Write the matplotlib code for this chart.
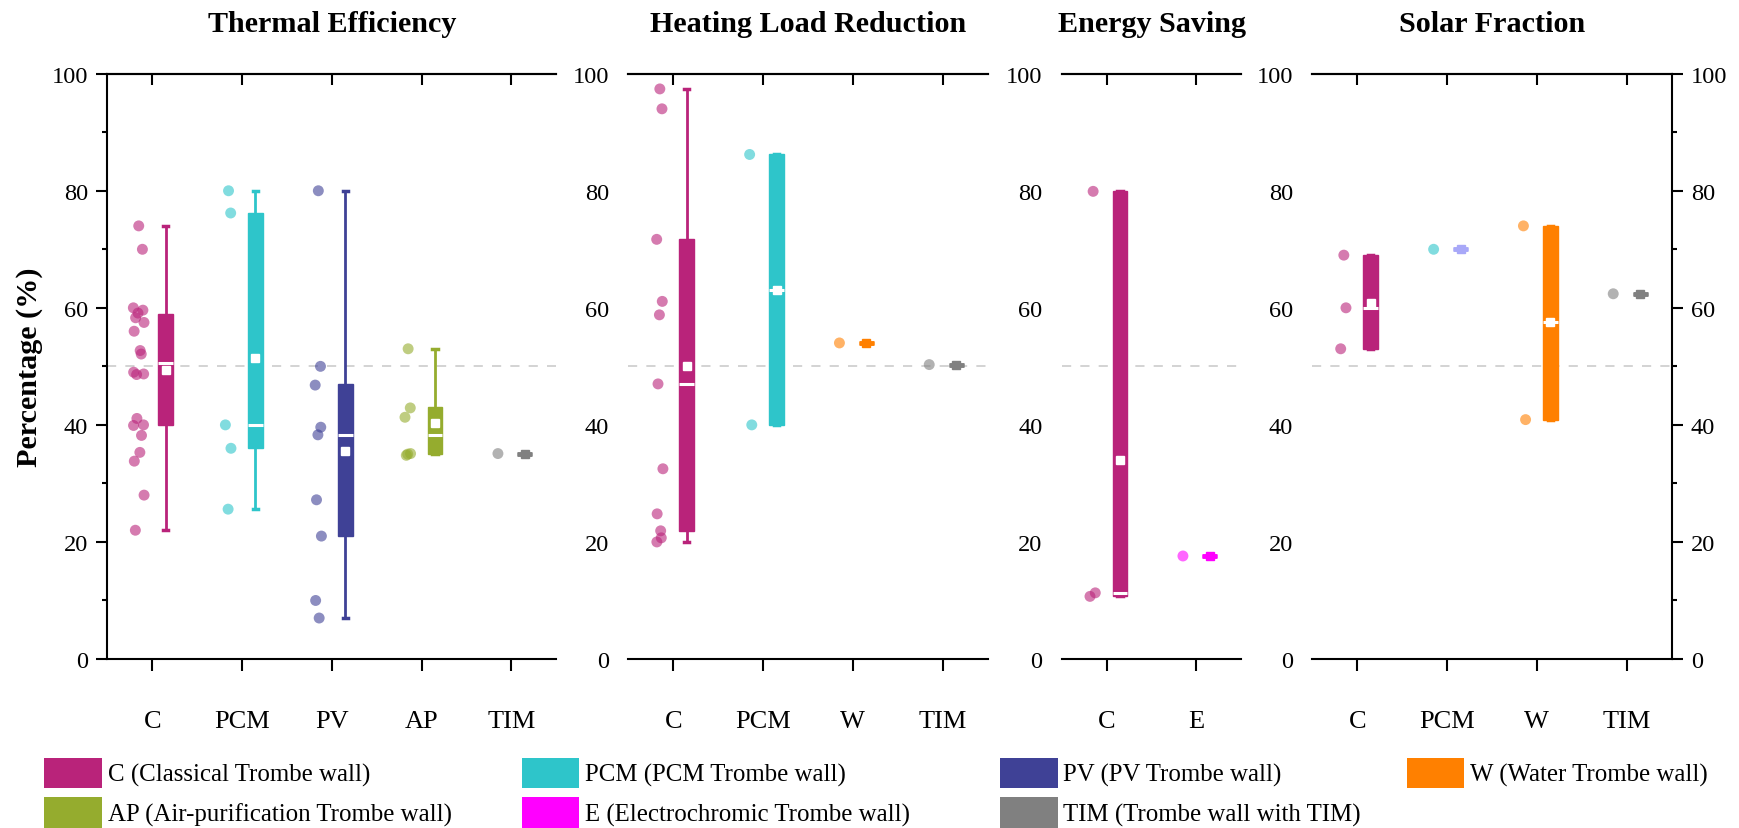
import numpy as np
import matplotlib
matplotlib.use("Agg")
import matplotlib.pyplot as plt
from matplotlib.patches import Patch
from matplotlib.ticker import MultipleLocator

plt.rcParams['font.family'] = ['Liberation Serif', 'DejaVu Serif']

# ---------------- data ----------------
# Thermal Efficiency
te_categories = ["C", "PCM", "PV", "AP", "TIM"]
te_C = [74.0, 70.0, 60.0, 59.6, 59.1, 58.3, 57.5, 56.0, 52.7, 52.1, 49.0,
        48.7, 48.6, 41.1, 40.0, 39.9, 38.2, 35.3, 33.8, 28.0, 22.0]
te_PCM = [80.0, 76.2, 40.0, 36.0, 25.6]
te_PV = [80.0, 50.0, 46.8, 39.6, 38.3, 27.2, 21.0, 10.0, 7.0]
te_AP = [53.0, 42.9, 41.3, 35.1, 35.0, 34.8]
te_TIM = [35.1]
te_lo = [22.0, 25.6, 7.0, 35.0, 35.1]
te_q1 = [40.0, 36.0, 21.0, 35.0, 35.1]
te_med = [50.5, 40.0, 38.3, 38.2, 35.1]
te_q3 = [59.0, 76.2, 47.0, 43.0, 35.1]
te_hi = [74.0, 80.0, 80.0, 53.0, 35.1]
te_mean = [49.3, 51.5, 35.5, 40.3, 35.1]

# Heating Load Reduction
hl_categories = ["C", "PCM", "W", "TIM"]
hl_C = [97.4, 94.0, 71.7, 61.1, 58.8, 47.0, 32.5, 24.8, 21.9, 20.7, 20.0]
hl_PCM = [86.2, 40.0]
hl_W = [54.0]
hl_TIM = [50.3]
hl_lo = [20.0, 40.0, 54.0, 50.3]
hl_q1 = [21.8, 40.0, 54.0, 50.3]
hl_med = [47.0, 63.1, 54.0, 50.3]
hl_q3 = [71.7, 86.2, 54.0, 50.3]
hl_hi = [97.4, 86.2, 54.0, 50.3]
hl_mean = [50.0, 63.1, 54.0, 50.3]

# Energy Saving
es_categories = ["C", "E"]
es_C = [79.9, 11.3, 10.7]
es_E = [17.6]
es_lo = [10.7, 17.6]
es_q1 = [10.7, 17.6]
es_med = [11.3, 17.6]
es_q3 = [80.0, 17.6]
es_hi = [80.0, 17.6]
es_mean = [34.0, 17.6]

# Solar Fraction
sf_categories = ["C", "PCM", "W", "TIM"]
sf_C = [69.0, 60.0, 53.0]
sf_PCM = [70.0]
sf_W = [74.0, 40.9]
sf_TIM = [62.4]
sf_lo = [53.0, 70.0, 40.9, 62.4]
sf_q1 = [53.0, 70.0, 40.9, 62.4]
sf_med = [60.0, 70.0, 57.5, 62.4]
sf_q3 = [69.0, 70.0, 74.0, 62.4]
sf_hi = [69.0, 70.0, 74.0, 62.4]
sf_mean = [60.8, 70.0, 57.5, 62.4]

legend_labels = {
    "C": "C (Classical Trombe wall)",
    "PCM": "PCM (PCM Trombe wall)",
    "PV": "PV (PV Trombe wall)",
    "W": "W (Water Trombe wall)",
    "AP": "AP (Air-purification Trombe wall)",
    "E": "E (Electrochromic Trombe wall)",
    "TIM": "TIM (Trombe wall with TIM)",
}

# ---------------- style ----------------
colors = {"C": "#B9237A", "PCM": "#2EC5CA", "PV": "#3F4196", "W": "#FF8000",
          "AP": "#95AC2E", "E": "#FF00FF", "TIM": "#808080"}
sf_box_override = {"PCM": "#A8A8F8"}

W_PX, H_PX = 1740, 829
fig = plt.figure(figsize=(W_PX / 100, H_PX / 100), dpi=100)

ax_top_px, ax_bot_px = 74.7, 660.0
unit = 89.8
lefts = [107.3, 628.4, 1061.7, 1312.4]
bottom = (H_PX - ax_bot_px) / H_PX
height = (ax_bot_px - ax_top_px) / H_PX

panels = [
    ("Thermal Efficiency", te_categories, [te_C, te_PCM, te_PV, te_AP, te_TIM],
     te_lo, te_q1, te_med, te_q3, te_hi, te_mean, {}),
    ("Heating Load Reduction", hl_categories, [hl_C, hl_PCM, hl_W, hl_TIM],
     hl_lo, hl_q1, hl_med, hl_q3, hl_hi, hl_mean, {}),
    ("Energy Saving", es_categories, [es_C, es_E],
     es_lo, es_q1, es_med, es_q3, es_hi, es_mean, {}),
    ("Solar Fraction", sf_categories, [sf_C, sf_PCM, sf_W, sf_TIM],
     sf_lo, sf_q1, sf_med, sf_q3, sf_hi, sf_mean, sf_box_override),
]

LW = 1.5
for k, (title, cats, pts_list, lo, q1, med, q3, hi, mean, override) in enumerate(panels):
    n = len(cats)
    ax = fig.add_axes([lefts[k] / W_PX, bottom, n * unit / W_PX, height])
    pos = np.arange(1, n + 1)
    ax.axhline(50, color='#c8c8c8', lw=1.1, ls=(0, (6, 6)), zorder=0)
    for i, cat in enumerate(cats):
        c = colors[cat]
        bc = override.get(cat, c)
        pts = np.asarray(pts_list[i], dtype=float)
        amp = 0.06 if len(pts) > 15 else 0.035
        jit = amp * np.sin(np.arange(len(pts)) * 2.39)
        ax.scatter(pos[i] - 0.15 + jit, pts, s=62, color=c, alpha=0.6,
                   edgecolors='none', zorder=3)
        single = q1[i] == q3[i]
        stats = [dict(whislo=lo[i], q1=q1[i], med=med[i], q3=q3[i],
                      whishi=hi[i], mean=mean[i])]
        ax.bxp(stats, positions=[pos[i] + 0.15], widths=0.165, patch_artist=True,
               showmeans=True, showfliers=False, capwidths=0.06,
               boxprops=dict(facecolor=bc, edgecolor=bc,
                             linewidth=3.5 if single else 1.0),
               whiskerprops=dict(color=bc, lw=2.0),
               capprops=dict(color=bc, lw=2.5),
               medianprops=dict(color=bc if single else 'white', lw=2.2),
               meanprops=dict(marker='s', markerfacecolor=bc if single else 'white',
                              markeredgecolor=bc if single else 'white',
                              markersize=5.5),
               zorder=4)
    ax.set_xlim(0.5, n + 0.5)
    ax.set_ylim(0, 100)
    ax.set_xticks(pos)
    ax.set_xticklabels(cats)
    ax.yaxis.set_major_locator(MultipleLocator(20))
    ax.yaxis.set_minor_locator(MultipleLocator(10))
    ax.tick_params(axis='x', direction='out', length=8.4, width=LW, pad=28,
                   labelsize=19)
    ax.tick_params(axis='y', which='major', direction='out', length=7.7, width=LW,
                   pad=6, labelsize=17.6)
    ax.tick_params(axis='y', which='minor', direction='out', length=3.5, width=LW)
    for s in ['top', 'bottom', 'left', 'right']:
        ax.spines[s].set_linewidth(LW)
    ax.spines['left'].set_visible(k == 0)
    ax.spines['right'].set_visible(k == 3)
    if k == 0:
        ax.tick_params(axis='y', which='both', left=True, right=False)
    else:
        ax.tick_params(axis='y', which='both', left=False, labelleft=True)
    if k == 3:
        ax.tick_params(axis='y', which='both', right=True, labelright=True)
    sec = ax.secondary_xaxis('top')
    sec.set_xticks(pos)
    sec.set_xticklabels([])
    sec.tick_params(axis='x', direction='in', length=8, width=LW)
    sec.spines['top'].set_linewidth(LW)
    ax.text(0.5, 1 + (ax_top_px - 32.3) / (ax_bot_px - ax_top_px), title,
            transform=ax.transAxes, ha='center', va='baseline',
            fontsize=21.7, fontweight='bold')

fig.text(30 / W_PX, 1 - 367 / H_PX, "Percentage (%)", rotation=90,
         ha='center', va='center', fontsize=21.7, fontweight='bold')

# legend: four columns
col_x = [44.3, 521.6, 1000.0, 1406.7]
columns = [["C", "AP"], ["PCM", "E"], ["PV", "TIM"], ["W"]]
for cx, keys in zip(col_x, columns):
    handles = [Patch(facecolor=colors[key], edgecolor='none', label=legend_labels[key])
               for key in keys]
    fig.legend(handles=handles, loc='upper left',
               bbox_to_anchor=(cx / W_PX, (H_PX - 758.5) / H_PX),
               frameon=False, borderpad=0, borderaxespad=0,
               handlelength=2.32, handleheight=1.49, handletextpad=0.23,
               labelspacing=0.39, fontsize=17.9)

fig.savefig("out.png", dpi=100)
